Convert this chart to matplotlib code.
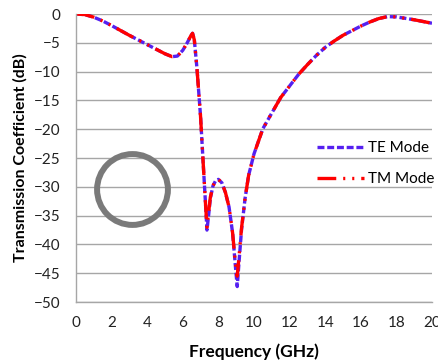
import matplotlib.pyplot as plt
import numpy as np

plt.rcParams['font.family'] = ['Lato', 'DejaVu Sans']
plt.rcParams['lines.scale_dashes'] = False

freq = [0, 0.5, 1, 1.5, 2, 2.5, 3, 3.5, 4, 4.5, 5, 5.4, 5.7, 6.0, 6.25, 6.45,
        6.55, 6.65, 6.8, 7.0, 7.15, 7.28, 7.36, 7.45, 7.55, 7.7, 7.85, 8.0,
        8.2, 8.4, 8.6, 8.8, 8.95, 9.06, 9.15, 9.3, 9.5, 9.7, 10, 10.5, 11,
        11.5, 12, 12.5, 13, 13.5, 14, 14.5, 15, 15.5, 16, 16.5, 17, 17.5, 18,
        18.5, 19, 19.5, 20]

te_db = [0, -0.1, -0.55, -1.2, -2.0, -2.85, -3.7, -4.5, -5.3, -6.1, -6.9,
         -7.4, -7.3, -6.3, -5.0, -3.8, -3.35, -4.5, -9.5, -17.8, -26, -33,
         -37.5, -35, -32, -29.8, -28.9, -28.7, -29.3, -31, -33.5, -38, -43.5,
         -47.3, -43.5, -37.5, -32, -28, -24.3, -19.9, -17.2, -14.5, -12.5,
         -10.5, -8.8, -7.2, -5.8, -4.7, -3.7, -2.9, -2.1, -1.4, -0.8, -0.45,
         -0.5, -0.75, -1.0, -1.3, -1.6]

tm_db = [0, -0.1, -0.55, -1.2, -2.0, -2.85, -3.7, -4.5, -5.3, -6.1, -6.9,
         -7.4, -7.3, -6.3, -5.0, -3.8, -3.35, -4.5, -9.5, -17.8, -26, -33,
         -37.0, -34.5, -31.8, -29.8, -28.9, -28.7, -29.3, -31, -33.5, -38,
         -43.0, -45.5, -42.5, -37.2, -32, -28, -24.3, -19.9, -17.2, -14.5,
         -12.5, -10.5, -8.8, -7.2, -5.8, -4.7, -3.7, -2.9, -2.1, -1.4, -0.8,
         -0.45, -0.5, -0.75, -1.0, -1.3, -1.6]

xticks = np.arange(0, 21, 2)
yticks = np.arange(-50, 1, 5)

fig = plt.figure(figsize=(4.39, 3.64), dpi=100)
ax = fig.add_axes([0.173, 0.170, 0.811, 0.7915])

ax.plot(freq, te_db, color='#5520F0', lw=2.4, dashes=[5, 2], label='TE Mode')
ax.plot(freq, tm_db, color='#FF0000', lw=2.4, dashes=[13.5, 5, 1.5, 5, 1.5, 5],
        label='TM Mode')

# ring illustration
ax.plot([3.17], [-30.3], marker='o', markersize=51, markerfacecolor='none',
        markeredgecolor='#7A7A7A', markeredgewidth=4.3, linestyle='none')

ax.set_xlim(0, 20)
ax.set_ylim(-50, 0)
ax.set_xticks(xticks)
ax.set_yticks(yticks)
ax.grid(axis='y', color='#A6A6A6', lw=1)
ax.set_axisbelow(True)
ax.tick_params(length=0, labelsize=11, colors='#222222')
ax.tick_params(axis='y', pad=11)
ax.tick_params(axis='x', pad=10)
for s in ['top', 'right']:
    ax.spines[s].set_visible(False)
for s in ['left', 'bottom']:
    ax.spines[s].set_color('#A6A6A6')
    ax.spines[s].set_linewidth(1)

ax.set_xlabel('Frequency (GHz)', fontsize=12.5, fontweight='bold', labelpad=10)
ax.set_ylabel('Transmission Coefficient (dB)', fontsize=11.5, fontweight='bold',
              labelpad=5)

ax.legend(loc='upper left', bbox_to_anchor=(0.66, 0.58), frameon=False,
          fontsize=11, handlelength=3.1, handletextpad=0.25, labelspacing=1.1,
          borderaxespad=0)

fig.savefig('out.png', dpi=100)
